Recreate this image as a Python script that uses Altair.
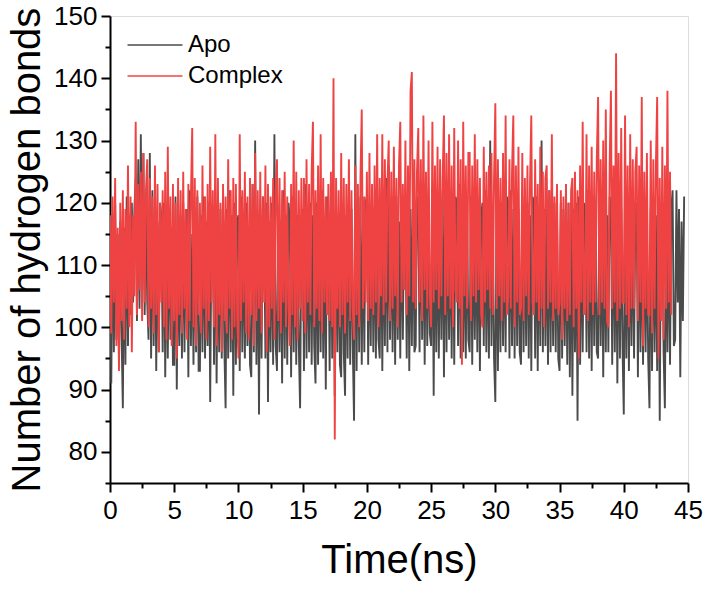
import altair as alt
import pandas as pd

# Sampling interval of the trajectories (ns)
time_step_ns = 0.1

# Number of hydrogen bonds, Apo (0 .. 44.7 ns), one row per ns
apo_values = [
    112, 91, 118, 96, 120, 98, 115, 94, 117, 99,
    87, 116, 94, 121, 97, 118, 102, 120, 104, 119,
    124, 101, 127, 103, 131, 106, 128, 102, 122, 104,
    98, 128, 95, 122, 97, 119, 93, 117, 96, 120,
    118, 96, 120, 92, 117, 95, 119, 98, 116, 94,
    94, 121, 90, 116, 97, 118, 95, 120, 96, 115,
    119, 92, 122, 97, 115, 94, 118, 96, 121, 93,
    93, 118, 96, 121, 95, 117, 97, 120, 88, 116,
    117, 94, 120, 91, 116, 96, 119, 95, 118, 97,
    87, 119, 95, 122, 96, 118, 89, 120, 94, 117,
    118, 93, 121, 96, 117, 95, 120, 97, 116, 94,
    92, 123, 96, 130, 94, 118, 86, 119, 95, 121,
    118, 95, 120, 88, 117, 96, 120, 94, 131, 97,
    93, 119, 96, 117, 91, 122, 95, 118, 94, 120,
    117, 92, 121, 96, 119, 94, 118, 97, 87, 116,
    119, 93, 123, 95, 118, 96, 120, 94, 118, 97,
    91, 120, 94, 119, 96, 122, 95, 117, 90, 121,
    118, 93, 121, 95, 119, 89, 120, 96, 117, 94,
    92, 120, 96, 89, 118, 95, 123, 94, 119, 97,
    85, 131, 93, 119, 96, 121, 94, 118, 96, 120,
    121, 94, 118, 97, 122, 96, 119, 95, 122, 98,
    95, 120, 93, 118, 97, 124, 96, 126, 98, 119,
    96, 119, 94, 121, 98, 117, 95, 121, 98, 120,
    118, 95, 120, 93, 119, 97, 122, 96, 97, 121,
    120, 96, 123, 98, 119, 94, 121, 97, 118, 99,
    97, 120, 89, 121, 96, 118, 95, 119, 98, 122,
    92, 122, 96, 119, 98, 118, 95, 120, 94, 121,
    120, 97, 123, 95, 118, 96, 119, 95, 119, 98,
    96, 121, 94, 119, 98, 117, 96, 120, 93, 118,
    120, 97, 122, 96, 118, 95, 130, 97, 119, 95,
    88, 121, 93, 118, 96, 120, 97, 118, 96, 121,
    120, 95, 122, 97, 119, 95, 121, 97, 119, 96,
    94, 121, 96, 118, 97, 120, 95, 118, 93, 121,
    120, 95, 121, 93, 118, 97, 130, 96, 119, 97,
    119, 94, 122, 96, 118, 97, 120, 96, 118, 95,
    93, 120, 95, 119, 97, 117, 94, 120, 92, 118,
    89, 119, 96, 120, 85, 121, 94, 118, 96, 120,
    118, 96, 122, 95, 119, 93, 121, 97, 119, 96,
    95, 121, 97, 118, 92, 120, 96, 118, 96, 121,
    120, 94, 123, 96, 119, 91, 121, 95, 119, 97,
    86, 121, 95, 119, 93, 118, 97, 120, 95, 118,
    120, 92, 122, 96, 119, 94, 121, 96, 117, 95,
    87, 119, 93, 121, 96, 118, 93, 121, 85, 119,
    118, 96, 87, 120, 96, 120, 94, 119, 122, 97,
    98, 122, 104, 119, 92, 117, 101, 121,
]

# Number of hydrogen bonds, Complex (0 .. 43.7 ns), one row per ns
complex_values = [
    118, 99, 121, 104, 124, 97, 116, 93, 120, 101,
    122, 98, 119, 103, 126, 100, 121, 96, 118, 105,
    133, 102, 123, 106, 125, 101, 128, 104, 122, 127,
    100, 124, 103, 121, 99, 126, 102, 123, 96, 120,
    104, 122, 100, 125, 98, 129, 103, 121, 97, 123,
    101, 120, 95, 124, 102, 122, 99, 125, 103, 119,
    98, 123, 101, 121, 132, 100, 124, 97, 122, 102,
    120, 99, 126, 103, 121, 98, 123, 101, 129, 104,
    122, 100, 131, 97, 124, 102, 120, 96, 123, 101,
    121, 99, 127, 103, 122, 98, 124, 100, 123, 102,
    95, 131, 101, 122, 104, 125, 99, 121, 98, 124,
    102, 123, 97, 128, 101, 122, 103, 125, 99, 121,
    104, 126, 96, 123, 100, 121, 103, 124, 98, 122,
    127, 101, 124, 99, 122, 104, 125, 100, 121, 103,
    97, 123, 102, 130, 100, 125, 98, 122, 103, 124,
    101, 124, 99, 127, 104, 123, 102, 125, 133, 100,
    122, 103, 126, 101, 131, 99, 124, 104, 121, 102,
    123, 101, 125, 100, 140, 82, 124, 103, 122, 100,
    128, 102, 124, 99, 123, 104, 127, 101, 122, 103,
    98, 126, 102, 123, 100, 124, 135, 103, 121, 104,
    125, 101, 128, 103, 123, 102, 126, 104, 131, 100,
    124, 105, 131, 102, 127, 104, 123, 130, 101, 125,
    103, 129, 105, 124, 100, 126, 133, 104, 123, 106,
    130, 102, 126, 105, 138, 141, 104, 127, 103, 125,
    132, 104, 127, 101, 134, 106, 125, 103, 130, 105,
    100, 133, 104, 126, 106, 129, 103, 127, 105, 124,
    134, 102, 128, 105, 131, 103, 126, 100, 132, 106,
    104, 130, 103, 127, 94, 133, 105, 126, 103, 128,
    128, 101, 126, 105, 131, 104, 127, 106, 124, 102,
    100, 129, 104, 125, 106, 126, 103, 128, 102, 124,
    136, 103, 127, 105, 124, 101, 128, 104, 134, 102,
    105, 127, 103, 125, 134, 100, 126, 104, 129, 102,
    103, 128, 101, 124, 105, 126, 102, 123, 134, 104,
    102, 127, 104, 123, 101, 129, 103, 125, 100, 124,
    126, 103, 122, 104, 131, 101, 121, 103, 123, 102,
    104, 122, 98, 121, 103, 123, 101, 120, 102, 122,
    124, 100, 125, 103, 122, 95, 126, 104, 133, 102,
    103, 131, 101, 126, 104, 129, 102, 125, 104, 127,
    137, 102, 127, 104, 130, 103, 135, 101, 100, 126,
    138, 103, 126, 104, 144, 101, 128, 103, 132, 104,
    104, 134, 102, 126, 100, 131, 103, 127, 103, 125,
    129, 101, 126, 104, 137, 97, 125, 103, 128, 102,
    102, 130, 99, 127, 103, 126, 137, 95, 124, 101,
    129, 98, 126, 103, 138, 104, 125, 102,
]

series_names = ["Apo", "Complex"]
series_colors = ["#4b4b4b", "#ef4343"]

x_ticks = [i * 2.5 for i in range(19)]
y_ticks = [75 + 5 * i for i in range(16)]

rows = []
for name, vals in zip(series_names, [apo_values, complex_values]):
    for i, v in enumerate(vals):
        rows.append({"time": round(i * time_step_ns, 2), "hb": v, "series": name})
df = pd.DataFrame(rows)

FONT = "Liberation Sans"

x_axis = alt.Axis(
    values=x_ticks,
    labelExpr="datum.value % 5 === 0 ? datum.label : ''",
    tickSize={"condition": {"test": "datum.value % 5 === 0", "value": 9}, "value": 5},
    tickWidth=2, tickColor="black",
    domainWidth=2, domainColor="black",
    labelFontSize=26, labelColor="black", labelPadding=5, labelFont=FONT,
    labelFlush=False,
    grid=False,
    title="Time(ns)", titleFontSize=40, titleFontWeight="normal", titleFont=FONT,
    titleColor="black", titlePadding=17,
)
y_axis = alt.Axis(
    values=y_ticks,
    labelExpr="datum.value % 10 === 0 ? datum.label : ''",
    tickSize={"condition": {"test": "datum.value % 10 === 0", "value": 9}, "value": 5},
    tickWidth=2, tickColor="black",
    domainWidth=2, domainColor="black",
    labelFontSize=26, labelColor="black", labelPadding=4, labelFont=FONT,
    labelFlush=False,
    grid=False,
    title="Number of hydrogen bonds", titleFontSize=40, titleFontWeight="normal",
    titleFont=FONT, titleColor="black", titlePadding=6,
)

chart = alt.Chart(df).mark_line(strokeWidth=1.9, clip=True).encode(
    x=alt.X("time:Q", scale=alt.Scale(domain=[0, 45], nice=False, zero=False), axis=x_axis),
    y=alt.Y("hb:Q", scale=alt.Scale(domain=[75, 150], nice=False, zero=False), axis=y_axis),
    color=alt.Color(
        "series:N",
        scale=alt.Scale(domain=series_names, range=series_colors),
        legend=alt.Legend(
            orient="none", legendX=33, legendY=17, title=None,
            symbolType="M-4,0H4", symbolSize=189, symbolStrokeWidth=1.5,
            labelFontSize=24, labelFont=FONT, labelColor="black",
            labelOffset=21, rowPadding=7, padding=0,
        ),
    ),
).properties(
    width=578, height=467,
    autosize=alt.AutoSizeParams(type="none"),
    padding={"left": 110, "top": 16, "right": 20, "bottom": 107},
).configure_view(
    stroke="black", strokeWidth=2
).configure(background="white")

chart.save("out.html", embed_options={"renderer": "svg", "actions": False})
